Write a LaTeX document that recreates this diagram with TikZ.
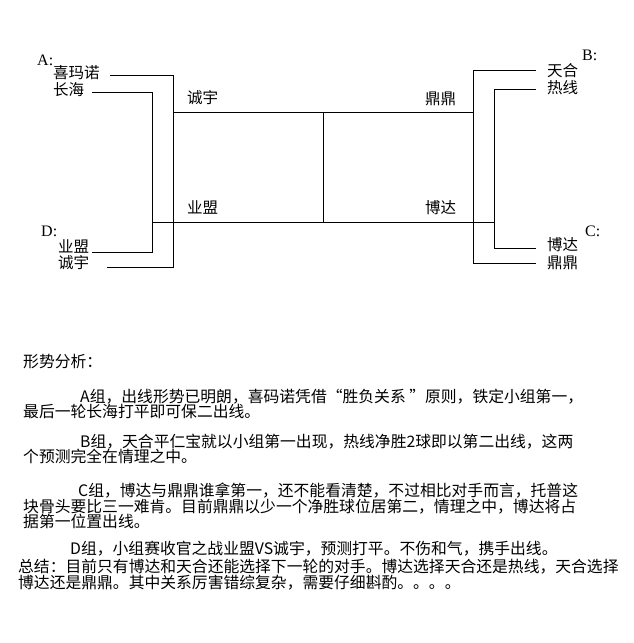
\documentclass[tikz,border=0pt]{standalone}
\usepackage{fontspec}
\setmainfont{Noto Sans CJK SC}
\newfontfamily\latinf{Liberation Serif}
\begin{document}
\begin{tikzpicture}[x=1pt,y=-1pt,
  lbl/.style={anchor=west,inner sep=0pt,font=\fontsize{15.5}{16}\selectfont,text height=0.8em,text depth=0.1em},
  txt/.style={anchor=west,inner sep=0pt,font=\fontsize{15.8}{16}\selectfont,text height=0.8em,text depth=0.1em},
  grp/.style={anchor=west,inner sep=0pt,font=\latinf\fontsize{16}{16}\selectfont,text height=0.7em,text depth=0em},
  wire/.style={line width=1pt,black}]
\useasboundingbox[fill=white] (0,0) rectangle (633,643);

% group labels
\node[grp] (gA) at (37,62) {A:};
\node[grp] (gD) at (41,233) {D:};
\node[grp] (gB) at (582,57) {B:};
\node[grp] (gC) at (585,233) {C:};

% team labels
\node[lbl] (xmn) at (53,75) {喜玛诺};
\node[lbl] (ch) at (53,92) {长海};
\node[lbl] (ym) at (58,249) {业盟};
\node[lbl] (cy) at (58,265) {诚宇};
\node[lbl] (cyt) at (187,100) {诚宇};
\node[lbl] (ymm) at (187,210) {业盟};
\node[lbl] (ddt) at (425,101) {鼎鼎};
\node[lbl] (bdm) at (425,210) {博达};
\node[lbl] (th) at (547,73) {天合};
\node[lbl] (rx) at (547,90) {热线};
\node[lbl] (bd) at (547,247) {博达};
\node[lbl] (dd) at (547,265) {鼎鼎};

% bracket coordinates
\coordinate (a1) at (110,75);
\coordinate (a2) at (173,75);
\coordinate (a3) at (173,267);
\coordinate (a4) at (107,267);
\coordinate (b1) at (92,92);
\coordinate (b2) at (152,92);
\coordinate (b3) at (152,252);
\coordinate (b4) at (92,252);
\coordinate (t1) at (173,112);
\coordinate (t2) at (473,112);
\coordinate (m1) at (152,222);
\coordinate (m2) at (494,222);
\coordinate (c1) at (323,112);
\coordinate (c2) at (323,222);
\coordinate (r1) at (536,70);
\coordinate (r2) at (473,70);
\coordinate (r3) at (473,263);
\coordinate (r4) at (536,263);
\coordinate (s1) at (536,89);
\coordinate (s2) at (494,89);
\coordinate (s3) at (494,248);
\coordinate (s4) at (536,248);

\draw[wire] (a1) -- (a2) -- (a3) -- (a4);
\draw[wire] (b1) -- (b2) -- (b3) -- (b4);
\draw[wire] (t1) -- (t2);
\draw[wire] (m1) -- (m2);
\draw[wire] (c1) -- (c2);
\draw[wire] (r1) -- (r2) -- (r3) -- (r4);
\draw[wire] (s1) -- (s2) -- (s3) -- (s4);

% analysis text
\node[txt] (p0) at (23,364) {形势分析：};
\node[txt] (p1) at (80,399) {A组，出线形势已明朗，喜码诺凭借“胜负关系 ”原则，铁定小组第一，};
\node[txt] (p2) at (23,414) {最后一轮长海打平即可保二出线。};
\node[txt] (p3) at (80,444) {B组，天合平仁宝就以小组第一出现，热线净胜2球即以第二出线，这两};
\node[txt] (p4) at (23,459) {个预测完全在情理之中。};
\node[txt] (p5) at (78,493) {C组，博达与鼎鼎谁拿第一，还不能看清楚，不过相比对手而言，托普这};
\node[txt] (p6) at (23,509) {块骨头要比三一难肯。目前鼎鼎以少一个净胜球位居第二，情理之中，博达将占};
\node[txt] (p7) at (23,524) {据第一位置出线。};
\node[txt] (p8) at (70,551) {D组，小组赛收官之战业盟VS诚宇，预测打平。不伤和气，携手出线。};
\node[txt] (p9) at (18,569) {总结：目前只有博达和天合还能选择下一轮的对手。博达选择天合还是热线，天合选择};
\node[txt] (p10) at (18,585) {博达还是鼎鼎。其中关系厉害错综复杂，需要仔细斟酌。。。。};
\end{tikzpicture}
\end{document}
